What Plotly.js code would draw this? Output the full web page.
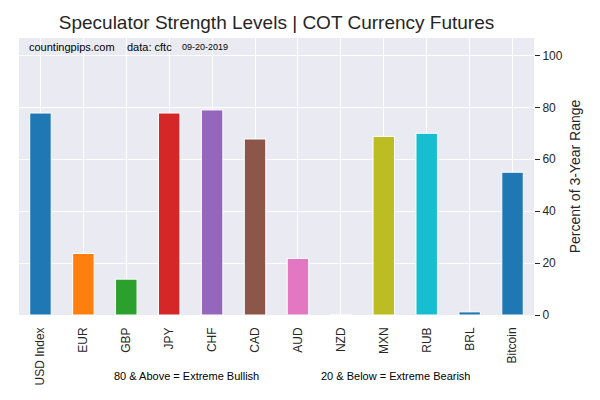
<!DOCTYPE html>
<html>
<head>
<meta charset="utf-8">
<script src="https://cdn.plot.ly/plotly-3.0.1.min.js"></script>
<style>
  body { margin: 0; padding: 0; background: #ffffff; }
  #chart { width: 600px; height: 400px; }
</style>
</head>
<body>
<div id="chart"></div>
<script>
// Chart data
const currencies = ['USD Index', 'EUR', 'GBP', 'JPY', 'CHF', 'CAD', 'AUD', 'NZD', 'MXN', 'RUB', 'BRL', 'Bitcoin'];
const strength = [77.8, 23.7, 13.8, 77.8, 79, 67.8, 21.8, 0, 68.8, 70, 1.2, 55];
const barColors = ['#1f77b4', '#ff7f0e', '#2ca02c', '#d62728', '#9467bd', '#8c564b',
  '#e377c2', '#7f7f7f', '#bcbd22', '#17becf', '#1f77b4', '#1f77b4'];
const yTicks = [0, 20, 40, 60, 80, 100];

const fontFamily = 'Liberation Sans, Arial, sans-serif';
const textColor = '#262626';

var strengthTrace = {
  x: currencies,
  y: strength,
  type: 'bar',
  width: 0.5,
  marker: {
    color: barColors,
    line: { color: '#ffffff', width: 1 },
  },
  hoverinfo: 'x+y',
};

var layout = {
  width: 600,
  height: 400,
  margin: { t: 38, b: 85, l: 19, r: 66, pad: 0 },
  paper_bgcolor: '#ffffff',
  plot_bgcolor: '#eaeaf2',
  showlegend: false,
  font: { family: fontFamily, size: 12, color: textColor },
  title: {
    text: 'Speculator Strength Levels | COT Currency Futures',
    font: { family: fontFamily, size: 19, color: textColor },
    x: 0.5,
    xref: 'paper',
    xanchor: 'center',
    y: 1 - 22 / 400,
    yref: 'container',
    yanchor: 'middle',
  },
  xaxis: {
    type: 'category',
    range: [-0.5, 11.5],
    tickangle: -90,
    tickfont: { size: 12, color: textColor },
    showgrid: true,
    gridcolor: '#ffffff',
    gridwidth: 1,
    showline: false,
    zeroline: false,
    ticks: '',
    ticklabelstandoff: 9,
  },
  yaxis: {
    side: 'right',
    range: [0, 106.7],
    autorange: false,
    tickvals: yTicks,
    ticktext: yTicks.map(String),
    tickfont: { size: 12, color: textColor },
    ticks: 'outside',
    ticklen: 5,
    tickcolor: textColor,
    tickwidth: 1,
    showgrid: true,
    gridcolor: '#ffffff',
    gridwidth: 1,
    zeroline: false,
    showline: false,
    title: {
      text: 'Percent of 3-Year Range',
      font: { family: fontFamily, size: 14, color: textColor },
      standoff: 8,
    },
  },
  annotations: [
    {
      text: 'countingpips.com',
      xref: 'paper', yref: 'paper', x: 0.0155, y: 0.9675,
      xanchor: 'left', yanchor: 'middle', showarrow: false,
      font: { size: 11, color: '#000000' },
    },
    {
      text: 'data: cftc',
      xref: 'paper', yref: 'paper', x: 0.206, y: 0.9675,
      xanchor: 'left', yanchor: 'middle', showarrow: false,
      font: { size: 11, color: '#000000' },
    },
    {
      text: '09-20-2019',
      xref: 'paper', yref: 'paper', x: 0.3126, y: 0.9675,
      xanchor: 'left', yanchor: 'middle', showarrow: false,
      font: { size: 9, color: '#000000' },
    },
    {
      text: '80 & Above = Extreme Bullish',
      xref: 'paper', yref: 'paper', x: 0.326, y: -0.22,
      xanchor: 'center', yanchor: 'middle', showarrow: false,
      font: { size: 11, color: '#000000' },
    },
    {
      text: '20 & Below = Extreme Bearish',
      xref: 'paper', yref: 'paper', x: 0.732, y: -0.22,
      xanchor: 'center', yanchor: 'middle', showarrow: false,
      font: { size: 11, color: '#000000' },
    },
  ],
};

var config = { responsive: false, displayModeBar: false, staticPlot: true };

Plotly.newPlot('chart', [strengthTrace], layout, config);
</script>
</body>
</html>
